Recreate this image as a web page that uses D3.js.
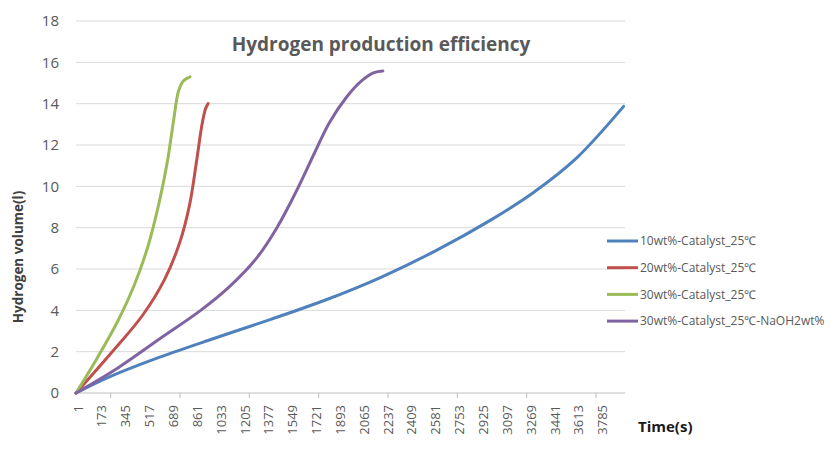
<!DOCTYPE html>
<html>
<head>
<meta charset="utf-8">
<script src="https://cdn.jsdelivr.net/npm/d3@7"></script>
<style>
  body { margin: 0; background: #fff; }
  svg { display: block; }
</style>
</head>
<body>
<div class="chart"></div>
<script>
// time (s) / hydrogen volume (l)
const cat10 = [[1, 0], [250, 0.8], [600, 1.72], [1000, 2.65], [1400, 3.55], [1800, 4.5], [2200, 5.6], [2600, 6.9], [3000, 8.4], [3300, 9.7], [3600, 11.3], [3950, 13.87]]
const cat20 = [[1, 0], [250, 1.9], [480, 3.75], [640, 5.5], [750, 7.3], [820, 9.1], [870, 11.2], [910, 13.0], [935, 13.75], [953, 14.0]]
const cat30 = [[1, 0], [150, 1.65], [300, 3.45], [420, 5.2], [520, 7.1], [600, 9.2], [660, 11.2], [705, 13.2], [740, 14.6], [775, 15.1], [823, 15.3]]
const cat30NaOH = [[1, 0], [300, 1.2], [600, 2.6], [900, 4.0], [1100, 5.1], [1300, 6.5], [1450, 8.0], [1600, 9.9], [1720, 11.6], [1830, 13.1], [1950, 14.3], [2060, 15.1], [2150, 15.5], [2214, 15.58]]

const seriesNames = ['10wt%-Catalyst_25℃', '20wt%-Catalyst_25℃', '30wt%-Catalyst_25℃', '30wt%-Catalyst_25℃-NaOH2wt%']
const seriesData = [cat10, cat20, cat30, cat30NaOH]
const colours = ['#4f81bd', '#c0504d', '#9bbb59', '#8064a2']

const xLabels = d3.range(23).map(i => 1 + i * 172)
const xTickMarks = [251, 751, 1251, 1751, 2251, 2751, 3251, 3751]
const yTicks = [0, 2, 4, 6, 8, 10, 12, 14, 16, 18]

const width = 837, height = 472
const plot = { left: 76, right: 625, top: 21, bottom: 393 }

const svg = d3.select('.chart').append('svg')
    .attr('width', width)
    .attr('height', height)
    .style('font-family', '"Open Sans", sans-serif')

svg.append('rect').attr('width', width).attr('height', height).style('fill', '#fff')

const x = d3.scaleLinear().domain([1, 3960]).range([plot.left, plot.right])
const y = d3.scaleLinear().domain([0, 18]).range([plot.bottom, plot.top])

// gridlines
svg.append('g').selectAll('line')
    .data(yTicks)
    .enter().append('line')
    .attr('x1', plot.left).attr('x2', plot.right)
    .attr('y1', d => y(d)).attr('y2', d => y(d))
    .style('stroke', d => d === 0 ? '#bfbfbf' : '#d9d9d9')
    .style('stroke-width', 1)

// y axis labels
svg.append('g').selectAll('text')
    .data(yTicks)
    .enter().append('text')
    .attr('x', 59)
    .attr('y', d => y(d))
    .attr('dy', '0.35em')
    .attr('text-anchor', 'end')
    .style('font-size', '15px')
    .style('fill', '#595959')
    .text(d => d)

// x tick marks
svg.append('g').selectAll('line')
    .data(xTickMarks)
    .enter().append('line')
    .attr('x1', d => x(d)).attr('x2', d => x(d))
    .attr('y1', plot.bottom).attr('y2', plot.bottom + 5)
    .style('stroke', '#bfbfbf')

// x labels (rotated)
svg.append('g').selectAll('text')
    .data(xLabels)
    .enter().append('text')
    .attr('transform', d => `translate(${x(d) + 2}, 405) rotate(-90)`)
    .attr('dy', '0.35em')
    .attr('text-anchor', 'end')
    .style('font-size', '13px')
    .style('fill', '#595959')
    .text(d => d)

// series
const line = d3.line()
    .x(d => x(d[0]))
    .y(d => y(d[1]))
    .curve(d3.curveCatmullRom.alpha(0.5))

svg.append('g').selectAll('path')
    .data(seriesData)
    .enter().append('path')
    .attr('d', line)
    .style('fill', 'none')
    .style('stroke', (d, i) => colours[i])
    .style('stroke-width', 3)
    .style('stroke-linecap', 'round')

// title
svg.append('text')
    .attr('x', 381).attr('y', 51)
    .attr('text-anchor', 'middle')
    .style('font-size', '19px')
    .style('font-weight', 'bold')
    .style('fill', '#595959')
    .text('Hydrogen production efficiency')

// axis titles
svg.append('text')
    .attr('transform', 'translate(23, 257) rotate(-90)')
    .attr('text-anchor', 'middle')
    .style('font-size', '13.5px')
    .style('font-weight', 'bold')
    .style('fill', '#404040')
    .text('Hydrogen volume(l)')

svg.append('text')
    .attr('x', 638).attr('y', 432)
    .style('font-size', '15px')
    .style('font-weight', 'bold')
    .style('fill', '#1a1a1a')
    .text('Time(s)')

// legend
const legend = svg.append('g').selectAll('g')
    .data(seriesNames)
    .enter().append('g')
    .attr('transform', (d, i) => `translate(607, ${241 + i * 26.7})`)

legend.append('line')
    .attr('x1', 0).attr('x2', 31)
    .style('stroke', (d, i) => colours[i])
    .style('stroke-width', 3)

legend.append('text')
    .attr('x', 33)
    .attr('dy', '0.35em')
    .style('font-size', '12px')
    .style('fill', '#595959')
    .text(d => d)
</script>
</body>
</html>
